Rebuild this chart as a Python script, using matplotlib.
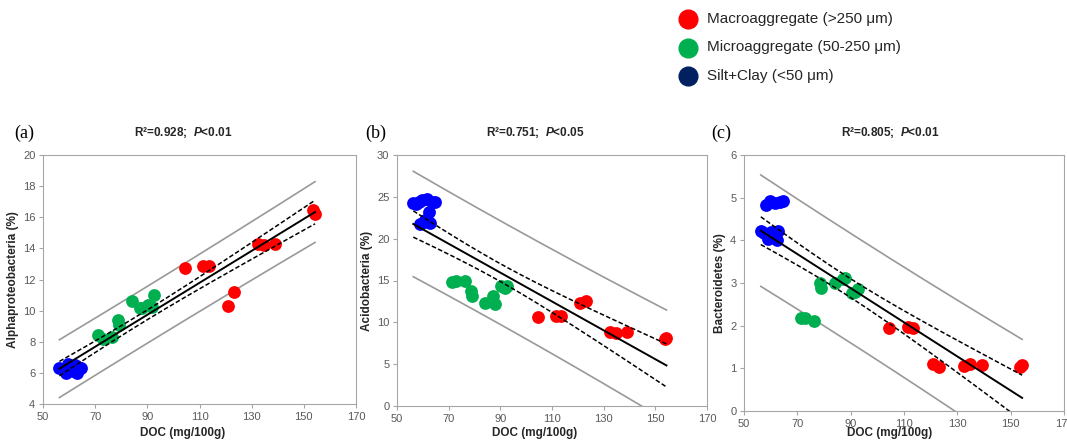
import numpy as np
import matplotlib.pyplot as plt
from matplotlib.lines import Line2D

plt.rcParams['font.family'] = ['Liberation Sans', 'DejaVu Sans']
plt.rcParams['mathtext.fontset'] = 'custom'
plt.rcParams['mathtext.rm'] = 'Liberation Sans'
plt.rcParams['mathtext.bf'] = 'Liberation Sans:bold'
plt.rcParams['mathtext.bfit'] = 'Liberation Sans:italic:bold'

# DOC (mg/100g) of the three aggregate fractions
macro_doc = [104.5, 111.4, 113.5, 121.0, 123.3, 132.4, 134.6, 139.1, 153.6, 154.3]
micro_doc = [71.2, 72.9, 76.4, 78.6, 79.0, 84.0, 87.3, 87.8, 90.4, 91.8, 92.7]
silt_doc = [56.3, 57.5, 58.4, 59.0, 59.7, 60.3, 60.9, 61.6, 62.2, 62.9, 63.4, 64.6]

# (a) Alphaproteobacteria (%)
alpha_macro = [12.76, 12.87, 12.87, 10.3, 11.2, 14.28, 14.2, 14.25, 16.45, 16.2]
alpha_micro = [8.45, 8.2, 8.3, 9.4, 9.1, 10.6, 10.2, 10.15, 10.35, 10.25, 11.0]
alpha_silt = [6.3, 6.25, 6.2, 6.0, 6.6, 6.4, 6.3, 6.1, 6.5, 6.0, 6.4, 6.3]

# (b) Acidobacteria (%)
acido_macro = [10.6, 10.8, 10.7, 12.3, 12.6, 8.9, 8.7, 8.9, 8.0, 8.1]
acido_micro = [14.8, 14.9, 14.9, 13.7, 13.1, 12.3, 13.1, 12.15, 14.3, 14.1, 14.4]
acido_silt = [24.3, 24.2, 24.4, 21.8, 24.6, 22.0, 22.2, 24.8, 23.2, 21.9, 24.4, 24.4]

# (c) Bacteroidetes (%)
bact_macro = [1.94, 1.97, 1.95, 1.11, 1.02, 1.06, 1.10, 1.08, 1.02, 1.07]
bact_micro = [2.18, 2.17, 2.11, 3.0, 2.89, 3.0, 3.10, 3.12, 2.77, 2.80, 2.85]
bact_silt = [4.21, 4.18, 4.83, 4.03, 4.92, 4.2, 4.13, 4.87, 4.0, 4.21, 4.91, 4.93]

panel_letters = ['(a)', '(b)', '(c)']
r2_values = ['0.928', '0.751', '0.805']
p_values = ['0.01', '0.05', '0.01']
y_labels = ['Alphaproteobacteria (%)', 'Acidobacteria (%)', 'Bacteroidetes (%)']
y_limits = [(4, 20), (0, 30), (0, 6)]
y_steps = [2, 5, 1]
legend_labels = ['Macroaggregate (>250 \u03bcm)', 'Microaggregate (50-250 \u03bcm)',
                 'Silt+Clay (<50 \u03bcm)']

panels = [(alpha_macro, alpha_micro, alpha_silt),
          (acido_macro, acido_micro, acido_silt),
          (bact_macro, bact_micro, bact_silt)]

RED, GREEN, BLUE, NAVY = '#FF0000', '#00B050', '#0000FF', '#002060'
GRAY = '#A6A6A6'
T_CRIT = 2.04


def fit_bands(x, y, xs):
    n = len(x)
    b, a = np.polyfit(x, y, 1)
    res = y - (a + b * x)
    s = np.sqrt(np.sum(res ** 2) / (n - 2))
    xm = x.mean()
    sxx = np.sum((x - xm) ** 2)
    fit = a + b * xs
    ci = T_CRIT * s * np.sqrt(1 / n + (xs - xm) ** 2 / sxx)
    pi = T_CRIT * s * np.sqrt(1 + 1 / n + (xs - xm) ** 2 / sxx)
    return fit, ci, pi


W, H = 1067, 446
fig = plt.figure(figsize=(W / 100, H / 100), dpi=100)

boxes = [(43, 356, 155, 404), (397, 707, 155, 406), (744, 1064, 155, 411)]
letter_x = [24, 376, 721]
title_x = [183, 535, 890]

for i, (l, r, t, btm) in enumerate(boxes):
    ax = fig.add_axes([l / W, 1 - btm / H, (r - l) / W, (btm - t) / H])
    macro, micro, silt = panels[i]
    ax.scatter(macro_doc, macro, s=85, color=RED, zorder=3, linewidths=0)
    ax.scatter(micro_doc, micro, s=85, color=GREEN, zorder=3, linewidths=0)
    ax.scatter(silt_doc, silt, s=85, color=BLUE, zorder=3, linewidths=0)

    x = np.array(silt_doc + micro_doc + macro_doc)
    y = np.array(silt + micro + macro)
    xs = np.linspace(x.min(), x.max(), 200)
    fit, ci, pi = fit_bands(x, y, xs)
    ax.plot(xs, fit, color='black', lw=1.4, zorder=4)
    ax.plot(xs, fit + ci, color='black', lw=1.1, ls=(0, (3, 1.5)), zorder=4)
    ax.plot(xs, fit - ci, color='black', lw=1.1, ls=(0, (3, 1.5)), zorder=4)
    ax.plot(xs, fit + pi, color='#999999', lw=1.2, zorder=2)
    ax.plot(xs, fit - pi, color='#999999', lw=1.2, zorder=2)

    ax.set_xlim(50, 170)
    ax.set_xticks(np.arange(50, 171, 20))
    lo, hi = y_limits[i]
    ax.set_ylim(lo, hi)
    ax.set_yticks(np.arange(lo, hi + 0.1, y_steps[i]))
    for sp in ax.spines.values():
        sp.set_color(GRAY)
        sp.set_linewidth(0.8)
    ax.tick_params(colors=GRAY, labelcolor='#595959', labelsize=8, length=3, width=0.8,
                   pad=2.5)
    ax.set_ylabel(y_labels[i], fontsize=8.5, fontweight='bold', color='#262626', labelpad=3)

    fig.text(title_x[i] / W, 1 - 433 / H, 'DOC (mg/100g)', fontsize=8.5, fontweight='bold',
             color='#262626', ha='center', va='center')
    fig.text(letter_x[i] / W, 1 - 133 / H, panel_letters[i], family='Liberation Serif',
             fontsize=13, ha='center', va='center')
    fig.text(title_x[i] / W, 1 - 132 / H,
             'R\u00b2=' + r2_values[i] + ';  $\\mathbfit{P}$<' + p_values[i],
             fontsize=8.5, fontweight='bold', ha='center', va='center', color='#262626')

# legend at the top
for k, (lab, col) in enumerate(zip(legend_labels, [RED, GREEN, NAVY])):
    yy = 1 - (19 + 28.5 * k) / H
    fig.add_artist(Line2D([688 / W], [yy], marker='o', markersize=13.5, color=col,
                          linestyle='none', transform=fig.transFigure))
    fig.text(707 / W, yy, lab, fontsize=11, va='center', ha='left', color='#262626')

fig.savefig('out.png', dpi=100)
